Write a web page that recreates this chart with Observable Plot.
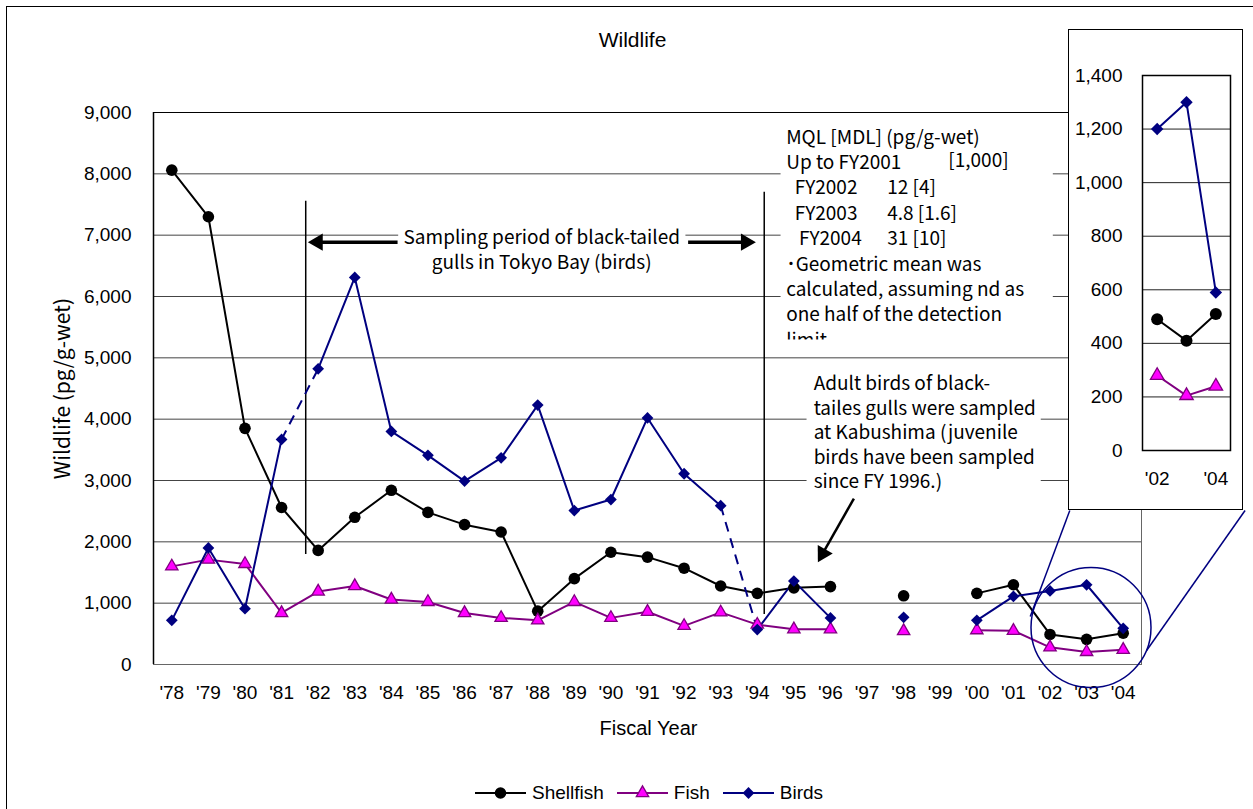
<!DOCTYPE html>
<html><head><meta charset="utf-8">
<script src="https://cdn.jsdelivr.net/npm/d3@7"></script>
<script src="https://cdn.jsdelivr.net/npm/@observablehq/plot@0.6"></script>
<style>
html,body{margin:0;padding:0;background:#fff;}
#wrap{position:relative;width:1253px;height:809px;overflow:hidden;background:#fff;}
#outer{position:absolute;left:6px;top:6px;width:1300px;height:900px;border:1px solid #000;}
#wrap svg{position:absolute;left:0;top:0;}
#inset{position:absolute;left:1068px;top:29px;width:175px;height:481px;box-sizing:border-box;border:1px solid #000;background:#fff;}
#inset svg{position:absolute;left:0;top:0;}
#legend{position:absolute;top:781px;left:475px;display:flex;align-items:center;height:24px;font-family:'Liberation Sans',Arial,sans-serif;font-size:19px;color:#000;}
#legend .it{display:flex;align-items:center;}
#legend span{margin-left:6px;margin-right:13px;}
</style></head><body>
<div id="wrap"><div id="outer"></div></div>
<script>
// ---------------- data ----------------
const years = ["'78","'79","'80","'81","'82","'83","'84","'85","'86","'87","'88","'89","'90","'91","'92","'93","'94","'95","'96","'97","'98","'99","'00","'01","'02","'03","'04"];
const shellfish = [8060, 7300, 3850, 2560, 1860, 2400, 2840, 2480, 2280, 2160, 870, 1400, 1830, 1750, 1570, 1280, 1160, 1250, 1270, null, 1120, null, 1160, 1300, 490, 410, 510];
const fish      = [1600, 1710, 1640, 840, 1190, 1280, 1060, 1020, 840, 760, 720, 1020, 760, 860, 630, 850, 650, 575, 575, null, 545, null, 560, 550, 280, 205, 240];
const birds     = [720, 1900, 910, 3670, 4820, 6310, 3800, 3410, 2990, 3370, 4230, 2510, 2690, 4020, 3110, 2590, 570, 1360, 760, null, 770, null, 720, 1110, 1200, 1300, 590];
const dashedBirdPairs = [["'81","'82"], ["'93","'94"]];
const seriesNames = ["Shellfish", "Fish", "Birds"];
const yTicks = [0, 1000, 2000, 3000, 4000, 5000, 6000, 7000, 8000, 9000];
const insetYears = ["'02", "'03", "'04"];
const insetTickLabels = ["'02", "'04"];
const insetYTicks = [0, 200, 400, 600, 800, 1000, 1200, 1400];

const sampText = "Sampling period of black-tailed\ngulls in Tokyo Bay (birds)";
const mqlLeft = "MQL [MDL] (pg/g-wet)\nUp to FY2001\n\u00a0\u00a0FY2002\n\u00a0\u00a0FY2003\n\u00a0\u00a0\u00a0FY2004\n\uff65Geometric mean was\ncalculated, assuming nd as\none half of the detection\nlimit";
const mqlFirst = "[1,000]";
const mqlVals = "12 [4]\n4.8 [1.6]\n31 [10]";
const adultText = "Adult birds of black-\ntailes gulls were sampled\nat Kabushima (juvenile\nbirds have been sampled\nsince FY 1996.)";

// ---------------- styles ----------------
const C = {Shellfish: "#000000", Fish: "#800080", Birds: "#000080"};
const FISHFILL = "#ff00ff";
const JP = "'Noto Sans CJK JP', 'Noto Sans', sans-serif";
const LAT = "'Liberation Sans', Arial, sans-serif";

// ---------------- tables ----------------
let seg = 0;
const rows = years.map((yr, i) => {
  if (i > 0 && dashedBirdPairs.some(([a, b]) => a === years[i - 1] && b === yr)) seg++;
  return {i, yr, shellfish: shellfish[i], fish: fish[i], birds: birds[i], seg};
});
const dashRows = dashedBirdPairs.map(([a, b]) => {
  const i1 = years.indexOf(a), i2 = years.indexOf(b);
  return {x1: i1, y1: birds[i1], x2: i2, y2: birds[i2]};
});

// annotation anchors (data units: x = year index, y = pg/g-wet)
const boxes = [
  {x1: 6.20, x2: 14.05, y1: 6391, y2: 7206},
  {x1: 16.65, x2: 24.09, y1: 5119, y2: 8983},
  {x1: 17.36, x2: 23.76, y1: 2804, y2: 4875}
];
const vlines = [{x: 3.66, y1: 1793, y2: 7554}, {x: 16.19, y1: 815, y2: 7701}];
const shafts = [
  {x1: 4.01, x2: 6.17, y1: 6885, y2: 6885, w: 3.5},
  {x1: 14.11, x2: 15.69, y1: 6885, y2: 6885, w: 3.5},
  {x1: 18.64, y1: 2706, x2: 17.79, y2: 1810, w: 2.5}
];
const heads = [
  {x: 3.99, y: 6885, rot: -90},
  {x: 15.69, y: 6885, rot: 90},
  {x: 17.79, y: 1810, rot: 209.5}
];
const lens = [{x: 25.12, y: 603}];
const connectors = [
  {x1: 24.54, y1: 2511, x2: 23.46, y2: 783},
  {x1: 29.33, y1: 2511, x2: 26.64, y2: 228}
];

const main = Plot.plot({
  width: 1253, height: 809,
  marginLeft: 153, marginRight: 112, marginTop: 112, marginBottom: 145,
  style: {background: "transparent", fontFamily: LAT, fontSize: "19px", color: "#000", overflow: "visible"},
  x: {domain: [-0.5, years.length - 0.5], ticks: d3.range(years.length), tickFormat: i => years[i], tickSize: 0, tickPadding: 21, label: null},
  y: {domain: [0, 9000], ticks: yTicks, tickFormat: d3.format(","), tickSize: 0, tickPadding: 22, label: null},
  marks: [
    Plot.ruleY(yTicks.slice(1, -1), {stroke: "#444", strokeWidth: 1}),
    Plot.frame({stroke: "#666", strokeWidth: 1}),
    Plot.ruleX([-0.5], {stroke: "#000", strokeWidth: 1.5}),
    Plot.ruleY([9000], {stroke: "#000", strokeWidth: 1}),
    Plot.rect(boxes, {x1: "x1", x2: "x2", y1: "y1", y2: "y2", fill: "#fff"}),
    Plot.ruleX(vlines, {x: "x", y1: "y1", y2: "y2", stroke: "#000", strokeWidth: 1.5}),
    Plot.link(shafts, {x1: "x1", y1: "y1", x2: "x2", y2: "y2", stroke: "#000", strokeWidth: "w"}),
    Plot.dot(heads, {x: "x", y: "y", rotate: "rot", symbol: "triangle", r: 6.4, fill: "#000"}),
    Plot.text([{x: 10.11, y: 6782, t: sampText}], {x: "x", y: "y", text: "t", textAnchor: "middle", lineAnchor: "middle", lineHeight: 1.3, fontFamily: JP, fontSize: 19, fill: "#000"}),
    Plot.text([{x: 16.79, y: 6968, t: mqlLeft}], {x: "x", y: "y", text: "t", textAnchor: "start", lineAnchor: "middle", lineHeight: 1.337, fontFamily: JP, fontSize: 19, fill: "#000"}),
    Plot.text([{x: 21.22, y: 8211, t: mqlFirst}], {x: "x", y: "y", text: "t", textAnchor: "start", lineAnchor: "middle", fontFamily: JP, fontSize: 19, fill: "#000"}),
    Plot.text([{x: 19.55, y: 7382, t: mqlVals}], {x: "x", y: "y", text: "t", textAnchor: "start", lineAnchor: "middle", lineHeight: 1.337, fontFamily: JP, fontSize: 19, fill: "#000"}),
    Plot.rect([{x1: 16.65, x2: 24.09, y1: 5119, y2: 5291}], {x1: "x1", x2: "x2", y1: "y1", y2: "y2", fill: "#fff"}),
    Plot.text([{x: 17.54, y: 3801, t: adultText}], {x: "x", y: "y", text: "t", textAnchor: "start", lineAnchor: "middle", lineHeight: 1.295, fontFamily: JP, fontSize: 19, fill: "#000"}),
    // titles
    Plot.text(["Wildlife"], {frameAnchor: "top", lineAnchor: "middle", dy: -72, dx: -15, fontFamily: LAT, fontSize: 21, fill: "#000"}),
    Plot.text(["Fiscal Year"], {frameAnchor: "bottom", lineAnchor: "middle", dy: 64, dx: 1, fontFamily: LAT, fontSize: 20, fill: "#000"}),
    Plot.text(["Wildlife (pg/g-wet)"], {frameAnchor: "left", textAnchor: "middle", lineAnchor: "middle", dx: -90, rotate: -90, fontFamily: JP, fontSize: 21, fill: "#000"}),
    // data
    Plot.line(rows, {x: "i", y: "shellfish", stroke: C.Shellfish, strokeWidth: 2}),
    Plot.line(rows, {x: "i", y: "fish", stroke: C.Fish, strokeWidth: 2}),
    Plot.line(rows, {x: "i", y: "birds", z: "seg", stroke: C.Birds, strokeWidth: 2}),
    Plot.link(dashRows, {x1: "x1", y1: "y1", x2: "x2", y2: "y2", stroke: C.Birds, strokeWidth: 2, strokeDasharray: "10,7"}),
    Plot.dot(rows.filter(d => d.shellfish != null), {x: "i", y: "shellfish", r: 5.8, fill: C.Shellfish}),
    Plot.dot(rows.filter(d => d.fish != null), {x: "i", y: "fish", symbol: "triangle", r: 4.6, fill: FISHFILL, stroke: C.Fish, strokeWidth: 1.3}),
    Plot.dot(rows.filter(d => d.birds != null), {x: "i", y: "birds", symbol: "diamond2", r: 5.3, fill: C.Birds}),
    // lens + connectors
    Plot.dot(lens, {x: "x", y: "y", r: 60, stroke: C.Birds, strokeWidth: 1.5, fill: "none"}),
    Plot.link(connectors, {x1: "x1", y1: "y1", x2: "x2", y2: "y2", stroke: C.Birds, strokeWidth: 1.5})
  ]
});
document.getElementById("wrap").appendChild(main);

// ---------------- inset ----------------
const n0 = years.indexOf(insetYears[0]);
const insetRows = insetYears.map((yr, k) => ({k, yr, shellfish: shellfish[n0 + k], fish: fish[n0 + k], birds: birds[n0 + k]}));
const inset = Plot.plot({
  width: 173, height: 479,
  marginLeft: 73, marginTop: 45, marginRight: 12, marginBottom: 59,
  style: {background: "transparent", fontFamily: LAT, fontSize: "19px", color: "#000", overflow: "visible"},
  x: {domain: [-0.5, insetYears.length - 0.5], ticks: insetTickLabels.map(t => insetYears.indexOf(t)), tickFormat: k => insetYears[k], tickSize: 0, tickPadding: 21, label: null},
  y: {domain: [0, 1400], ticks: insetYTicks, tickFormat: d3.format(","), tickSize: 0, tickPadding: 20, label: null},
  marks: [
    Plot.ruleY(insetYTicks.slice(1, -1), {stroke: "#222", strokeWidth: 1}),
    Plot.frame({stroke: "#000", strokeWidth: 1.5}),
    Plot.line(insetRows, {x: "k", y: "shellfish", stroke: C.Shellfish, strokeWidth: 2}),
    Plot.line(insetRows, {x: "k", y: "fish", stroke: C.Fish, strokeWidth: 2}),
    Plot.line(insetRows, {x: "k", y: "birds", stroke: C.Birds, strokeWidth: 2}),
    Plot.dot(insetRows, {x: "k", y: "shellfish", r: 6, fill: C.Shellfish}),
    Plot.dot(insetRows, {x: "k", y: "fish", symbol: "triangle", r: 5, fill: FISHFILL, stroke: C.Fish, strokeWidth: 1.3}),
    Plot.dot(insetRows, {x: "k", y: "birds", symbol: "diamond2", r: 5.6, fill: C.Birds})
  ]
});
const insetDiv = document.createElement("div");
insetDiv.id = "inset";
insetDiv.appendChild(inset);
document.getElementById("wrap").appendChild(insetDiv);

// ---------------- legend ----------------
const sym = {Shellfish: d3.symbolCircle, Fish: d3.symbolTriangle, Birds: d3.symbolDiamond2};
const symSize = {Shellfish: Math.PI * 5.8 * 5.8, Fish: Math.PI * 4.6 * 4.6, Birds: Math.PI * 5.3 * 5.3};
const legend = document.createElement("div");
legend.id = "legend";
seriesNames.forEach(name => {
  const it = document.createElement("div");
  it.className = "it";
  const svg = d3.create("svg").attr("width", 51).attr("height", 24).style("position", "static");
  svg.append("line").attr("x1", 0).attr("x2", 51).attr("y1", 12).attr("y2", 12).attr("stroke", C[name]).attr("stroke-width", 2);
  svg.append("path").attr("transform", "translate(25.5,12)").attr("d", d3.symbol(sym[name], symSize[name])())
    .attr("fill", name === "Fish" ? FISHFILL : C[name]).attr("stroke", name === "Fish" ? C.Fish : "none").attr("stroke-width", 1.3);
  it.appendChild(svg.node());
  const sp = document.createElement("span");
  sp.textContent = name;
  it.appendChild(sp);
  legend.appendChild(it);
});
document.getElementById("wrap").appendChild(legend);
</script>
</body></html>
